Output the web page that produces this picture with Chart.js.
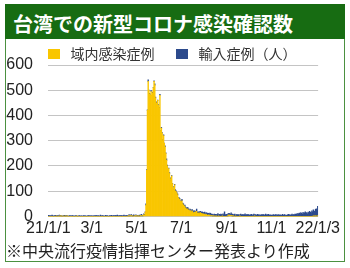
<!DOCTYPE html>
<html lang="ja">
<head>
<meta charset="utf-8">
<script src="https://cdn.jsdelivr.net/npm/chart.js@4/dist/chart.umd.min.js"></script>
<style>
  body { margin: 0; width: 350px; height: 268px; background: #fff; position: relative; overflow: hidden; font-family: "Noto Sans CJK JP", sans-serif; }
  #frame { position: absolute; left: 5px; top: 4px; width: 340px; height: 258px; box-sizing: border-box; border: 1px solid #4b9040; }
  #head { position: absolute; left: 5px; top: 4px; width: 340px; height: 35px; box-sizing: border-box; padding-left: 8px; background: #176c12; color: #fff; font-weight: bold; font-size: 20px; line-height: 39px; overflow: hidden; }
  #wrap { position: absolute; left: 6px; top: 30px; width: 337px; height: 211px; }
  #note { position: absolute; left: 6px; top: 241px; font-size: 16px; line-height: 18px; color: #222; white-space: nowrap; }
</style>
</head>
<body>
<div id="frame"></div>
<div id="head">台湾での新型コロナ感染確認数</div>
<div id="wrap"><canvas id="covid_chart" width="337" height="211"></canvas></div>
<div id="note">※中央流行疫情指揮センター発表より作成</div>
<script>
// daily domestic cases, 2021-01-01 .. 2022-01-03
const domJan = [0,0,0,0,0,0,0,0,0,0,0,1,0,0,0,1,0,1,1,0,0,1,0,0,1,0,1,0,0,0,0];
const domFeb = [0,0,0,0,0,0,0,0,1,0,0,0,0,0,0,0,0,0,0,0,0,0,0,0,0,0,0,0];
const domMar = [0,0,0,0,0,0,0,0,0,0,0,0,0,0,0,0,0,0,0,0,0,0,0,0,0,0,0,0,0,0,0];
const domApr = [0,0,0,0,0,0,0,0,0,0,0,0,0,0,0,0,0,0,0,1,2,1,2,3,0,1,0,0,3,1];
const domMay = [2,1,0,1,0,1,3,2,2,2,7,4,16,45,183,420,535,500,485,480,495,480,490,510,535,520,470,450,445,460,440];
const domJun = [430,480,340,350,330,300,320,290,276,250,222,200,183,190,170,150,140,160,130,115,105,125,100,98,92,85,75,70,68,60];
const domJul = [58,62,50,45,42,38,33,30,27,30,24,22,25,20,18,22,15,14,16,18,14,20,13,12,14,11,15,10,12,9,10];
const domAug = [8,9,6,8,5,4,6,3,5,2,3,2,1,2,0,1,0,1,0,0,1,0,0,0,0,1,0,0,0,0,0];
const domSep = [0,1,2,6,4,3,4,2,1,1,0,0,1,0,0,0,0,0,1,0,0,0,0,0,0,0,0,0,0,0];
const domOct = [0,0,0,0,0,0,0,0,1,0,0,0,0,0,0,0,0,0,0,0,0,0,0,0,0,0,0,0,0,0,0];
const domNov = [0,0,0,0,0,0,0,0,0,0,0,0,0,0,0,0,0,0,0,0,0,0,0,0,0,0,0,0,0,0];
const domDec = [0,0,0,0,0,0,0,0,0,0,0,0,0,0,0,0,0,0,0,0,0,0,0,0,0,0,0,1,0,1,2];
const domJan22 = [0,1,2];

// daily imported cases
const impJan = [4,2,3,1,2,5,3,0,3,2,4,2,1,3,2,4,2,3,1,0,3,2,4,1,2,3,1,2,0,3,2];
const impFeb = [2,1,3,2,0,1,2,3,1,0,2,1,3,0,1,2,0,3,1,2,1,0,2,1,3,2,1,2];
const impMar = [1,2,0,3,2,1,4,2,1,3,0,2,5,1,2,3,1,0,2,4,1,3,2,0,1,3,2,4,1,2,3];
const impApr = [2,4,1,3,5,2,1,3,2,4,1,2,3,5,2,1,4,2,3,1,5,2,3,4,1,2,6,3,2,4];
const impMay = [3,2,4,1,5,2,3,6,2,1,3,4,2,5,3,2,6,1,3,2,4,0,3,1,2,5,3,4,2,1,3];
const impJun = [2,4,1,3,2,5,3,1,4,2,6,3,2,1,4,3,5,2,1,3,4,2,6,3,2,4,1,5,3,2];
const impJul = [4,6,3,5,2,7,4,3,8,5,6,2,4,7,3,5,8,4,6,3,5,9,4,6,3,7,5,4,6,8,5];
const impAug = [6,8,4,7,5,9,6,3,8,10,5,7,6,4,9,5,8,6,7,11,5,8,6,9,7,5,10,6,18,7,6];
const impSep = [8,5,9,6,7,4,10,6,8,5,7,9,4,6,8,5,7,3,6,9,5,8,4,7,6,10,5,7,6,8];
const impOct = [6,4,7,5,8,3,6,9,5,7,4,6,8,5,7,3,6,4,8,5,7,6,4,9,5,7,6,8,4,6,5];
const impNov = [4,6,3,7,5,4,8,3,6,5,7,4,6,3,5,8,4,6,7,3,5,4,6,8,5,7,4,6,9,5];
const impDec = [7,6,9,8,10,7,12,9,13,10,15,12,9,16,11,14,18,12,15,10,17,13,20,16,14,22,18,25,21,19,26];
const impJan22 = [30,24,38];

const tickDates = ["2021-01-01", "2021-03-01", "2021-05-01", "2021-07-01", "2021-09-01", "2021-11-01", "2022-01-03"];
const tickText = ["21/1/1", "3/1", "5/1", "7/1", "9/1", "11/1", "22/1/3"];

const domestic = [].concat(domJan, domFeb, domMar, domApr, domMay, domJun, domJul, domAug, domSep, domOct, domNov, domDec, domJan22);
const imported = [].concat(impJan, impFeb, impMar, impApr, impMay, impJun, impJul, impAug, impSep, impOct, impNov, impDec, impJan22);

// one category per day
const days = [];
for (let i = 0; i < domestic.length; i++) {
    days.push(new Date(Date.UTC(2021, 0, 1) + i * 86400000).toISOString().slice(0, 10));
}
const tickIdx = tickDates.map(d => days.indexOf(d));

const yellow = "#f9c600";
const blue = "#2c4a8c";

// small square used as the legend marker
function swatch(color) {
    const c = document.createElement("canvas");
    c.width = 12;
    c.height = 10;
    const g = c.getContext("2d");
    g.fillStyle = color;
    g.fillRect(0, 0, 12, 10);
    return c;
}

const tickFont = { family: "'Liberation Sans', Arial, sans-serif", size: 16 };

const covid_chart = new Chart("covid_chart",
{
    type: "bar",
    data:
    {
        labels: days,
        datasets:
        [
            {
                label: "域内感染症例",
                data: domestic,
                backgroundColor: yellow,
                pointStyle: swatch(yellow),
                borderWidth: 0,
                barPercentage: 1,
                categoryPercentage: 1
            },
            {
                label: "輸入症例（人）",
                data: imported,
                backgroundColor: blue,
                pointStyle: swatch(blue),
                borderWidth: 0,
                barPercentage: 1,
                categoryPercentage: 1
            }
        ]
    },
    options:
    {
        responsive: false,
        animation: false,
        layout: { padding: { left: 0, right: 9, top: 0, bottom: 0 } },
        plugins:
        {
            legend:
            {
                position: "top",
                maxHeight: 35,
                labels:
                {
                    usePointStyle: true,
                    pointStyleWidth: 20,
                    boxHeight: 10,
                    padding: 17,
                    color: "#333",
                    font: { family: "'Noto Sans CJK JP', sans-serif", size: 14 }
                }
            },
            tooltip: { enabled: false }
        },
        scales:
        {
            x:
            {
                stacked: true,
                grid: { display: false, drawTicks: false },
                border: { display: false },
                afterBuildTicks: axis => { axis.ticks = tickIdx.map(v => ({ value: v })); },
                afterFit: axis => { axis.height = 22; },
                ticks:
                {
                    autoSkip: false,
                    maxRotation: 0,
                    padding: 3,
                    color: "#222",
                    font: tickFont,
                    callback: (v, i) => tickText[i]
                }
            },
            y:
            {
                stacked: true,
                min: 0,
                max: 600,
                grid: { color: "#c4c4c4", drawTicks: false },
                border: { display: false },
                afterFit: axis => { axis.width = 42; },
                ticks:
                {
                    stepSize: 100,
                    padding: 15,
                    color: "#222",
                    font: tickFont
                }
            }
        }
    }
});
</script>
</body>
</html>
